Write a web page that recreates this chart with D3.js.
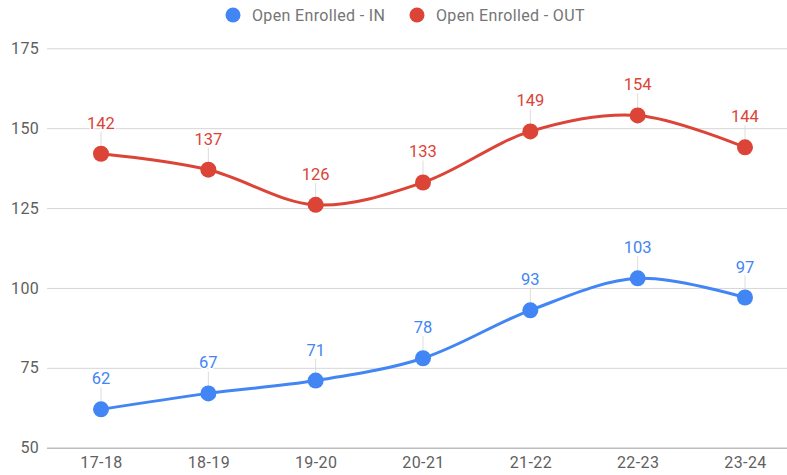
<!DOCTYPE html>
<html>
<head>
<meta charset="utf-8">
<script src="https://cdn.jsdelivr.net/npm/d3@7"></script>
<style>
  body { margin: 0; background: #fff; }
  svg text { font-family: Roboto, "Noto Sans", sans-serif; }
</style>
</head>
<body>
<div id="chart"></div>
<script>
// data
let years = ["17-18", "18-19", "19-20", "20-21", "21-22", "22-23", "23-24"];
let enrolledIn = [62, 67, 71, 78, 93, 103, 97];
let enrolledOut = [142, 137, 126, 133, 149, 154, 144];
let yTicks = [50, 75, 100, 125, 150, 175];
let seriesNames = ["Open Enrolled - IN", "Open Enrolled - OUT"];
let seriesColors = ["#4285f4", "#db4437"];

let width = 787, height = 475;

let svg = d3.select("#chart").append("svg")
    .attr("width", width)
    .attr("height", height);

// scales
let x = d3.scalePoint()
    .domain(years)
    .range([101, 745]);

let y = d3.scaleLinear()
    .domain([50, 175])
    .range([447.7, 48.3]);

// gridlines + y labels
let yAxis = d3.axisLeft(y)
    .tickValues(yTicks)
    .tickSize(-(width - 47))
    .tickPadding(8);

svg.append("g")
    .attr("class", "y-axis")
    .attr("transform", "translate(47,0)")
    .call(yAxis)
    .call(g => g.select(".domain").remove())
    .call(g => g.selectAll(".tick line")
        .attr("stroke", d => d === 50 ? "#bdbdbd" : "#d6d6d6")
        .attr("stroke-width", d => d === 50 ? 1.5 : 1))
    .call(g => g.selectAll(".tick text")
        .attr("fill", "#5f5f5f")
        .attr("font-size", 16)
        .attr("letter-spacing", 0.3)
        .attr("x", -8));

// x labels
let xAxis = d3.axisBottom(x).tickSize(0).tickPadding(0);

svg.append("g")
    .attr("class", "x-axis")
    .attr("transform", "translate(0,457)")
    .call(xAxis)
    .call(g => g.select(".domain").remove())
    .call(g => g.selectAll(".tick text")
        .attr("fill", "#5f5f5f")
        .attr("font-size", 16)
        .attr("letter-spacing", 0.4));

let line = d3.line()
    .x((d, i) => x(years[i]))
    .y(d => y(d))
    .curve(d3.curveCatmullRom.alpha(0.5));

[enrolledIn, enrolledOut].forEach(function(values, s) {
    let color = seriesColors[s];
    let g = svg.append("g");

    // leader lines for the data labels
    g.selectAll(".leader")
        .data(values)
        .enter().append("line")
        .attr("x1", (d, i) => x(years[i]))
        .attr("x2", (d, i) => x(years[i]))
        .attr("y1", d => y(d) - 6)
        .attr("y2", d => y(d) - 22)
        .attr("stroke", "#dddddd")
        .attr("stroke-width", 1);

    g.append("path")
        .datum(values)
        .attr("fill", "none")
        .attr("stroke", color)
        .attr("stroke-width", 3)
        .attr("d", line);

    g.selectAll("circle")
        .data(values)
        .enter().append("circle")
        .attr("cx", (d, i) => x(years[i]))
        .attr("cy", d => y(d))
        .attr("r", 8)
        .attr("fill", color);

    g.selectAll(".label")
        .data(values)
        .enter().append("text")
        .attr("x", (d, i) => x(years[i]))
        .attr("y", d => y(d) - 25)
        .attr("text-anchor", "middle")
        .attr("font-size", 16.5)
        .attr("fill", color)
        .style("paint-order", "stroke")
        .attr("stroke", "#fff")
        .attr("stroke-width", 3)
        .text(d => d);
});

// legend
let legendX = [233, 417];
let legend = svg.append("g");
seriesNames.forEach(function(name, i) {
    legend.append("circle")
        .attr("cx", legendX[i])
        .attr("cy", 15)
        .attr("r", 7.5)
        .attr("fill", seriesColors[i]);
    legend.append("text")
        .attr("x", legendX[i] + 19)
        .attr("y", 20.5)
        .attr("font-size", 16)
        .attr("letter-spacing", 0.35)
        .attr("fill", "#757575")
        .text(name);
});
</script>
</body>
</html>
